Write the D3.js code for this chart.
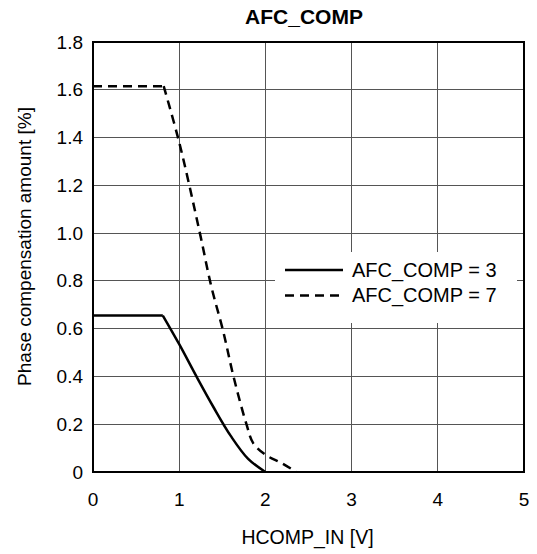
<!DOCTYPE html>
<html><head><meta charset="utf-8">
<script src="https://cdn.jsdelivr.net/npm/d3@7"></script>
<style>body{margin:0;background:#fff}svg{display:block}text{font-family:"Liberation Sans",Arial,sans-serif}</style>
</head><body>
<svg id="c" width="537" height="554"></svg>
<script>
const title = "AFC_COMP";
const xLabel = "HCOMP_IN [V]";
const yLabel = "Phase compensation amount [%]";
const xTicks = [0,1,2,3,4,5];
const yTicks = [0,0.2,0.4,0.6,0.8,1.0,1.2,1.4,1.6,1.8];
const yTickLabels = ["0","0.2","0.4","0.6","0.8","1.0","1.2","1.4","1.6","1.8"];
const seriesNames = ["AFC_COMP = 3","AFC_COMP = 7"];
const comp3X = [0, 0.81, 1.0, 1.2, 1.4, 1.6, 1.8, 2.0];
const comp3Y = [0.655, 0.655, 0.535, 0.40, 0.27, 0.15, 0.055, 0.0];
const comp7X = [0, 0.82, 1.0, 1.24, 1.37, 1.51, 1.63, 1.78, 1.86, 2.01, 2.2, 2.36];
const comp7Y = [1.615, 1.615, 1.38, 1.0, 0.78, 0.59, 0.40, 0.20, 0.12, 0.07, 0.035, 0.0];

const svg = d3.select("#c");
const m = {l:93, r:524, t:42, b:472};
const x = d3.scaleLinear().domain([0,5]).range([m.l, m.r]);
const y = d3.scaleLinear().domain([0,1.8]).range([m.b, m.t]);

// grid
const g = svg.append("g");
g.selectAll(".vx").data(xTicks.slice(1,-1)).join("line")
  .attr("x1", d=>x(d)).attr("x2", d=>x(d)).attr("y1", m.t).attr("y2", m.b)
  .attr("stroke", "#555").attr("stroke-width", 1).attr("shape-rendering","crispEdges");
g.selectAll(".hy").data(yTicks.slice(1,-1)).join("line")
  .attr("y1", d=>y(d)).attr("y2", d=>y(d)).attr("x1", m.l).attr("x2", m.r)
  .attr("stroke", "#555").attr("stroke-width", 1).attr("shape-rendering","crispEdges");

// legend background
const lg = svg.append("g");
lg.append("rect").attr("x", 275).attr("y", 252).attr("width", 242).attr("height", 71).attr("fill", "#fff");

// curves: flat linear part then smooth descent
function drawSeries(xs, ys, dash) {
  const pts = xs.map((v,i)=>[v, ys[i]]);
  const flat = pts.slice(0,2), fall = pts.slice(1);
  const lin = d3.line().x(d=>x(d[0])).y(d=>y(d[1]));
  const smooth = d3.line().x(d=>x(d[0])).y(d=>y(d[1])).curve(d3.curveCatmullRom.alpha(0.5));
  [[flat, lin],[fall, smooth]].forEach(([data, gen])=>{
    svg.append("path").datum(data).attr("d", gen)
      .attr("fill","none").attr("stroke","#000").attr("stroke-width",2.5)
      .attr("stroke-dasharray", dash);
  });
}
drawSeries(comp3X, comp3Y, null);
drawSeries(comp7X, comp7Y, "9,6");

// frame
svg.append("rect").attr("x", m.l).attr("y", m.t).attr("width", m.r-m.l).attr("height", m.b-m.t)
  .attr("fill","none").attr("stroke","#000").attr("stroke-width",2);

// legend items
const items = [{n:seriesNames[0], dash:null},{n:seriesNames[1], dash:"9,6"}];
items.forEach((it,i)=>{
  lg.append("line").attr("x1",285).attr("x2",343).attr("y1",270 + i*25.5).attr("y2",270 + i*25.5)
    .attr("stroke","#000").attr("stroke-width",2.5).attr("stroke-dasharray", it.dash);
  lg.append("text").attr("x",352).attr("y",277 + i*24.5).attr("font-size",20).text(it.n);
});
svg.node().appendChild(lg.node());

// tick labels
svg.selectAll(".xt").data(xTicks).join("text")
  .attr("x", d=>x(d)).attr("y", 506).attr("text-anchor","middle").attr("font-size",19).text(d=>d);
svg.selectAll(".yt").data(yTicks).join("text")
  .attr("x", 83).attr("y", d=>y(d)+6.5).attr("text-anchor","end").attr("font-size",19).text((d,i)=>yTickLabels[i]);

// titles
svg.append("text").attr("x", 304).attr("y", 24).attr("text-anchor","middle")
  .attr("font-size",21).attr("font-weight","bold").text(title);
svg.append("text").attr("x", 307.5).attr("y", 544).attr("text-anchor","middle")
  .attr("font-size",19.5).text(xLabel);
svg.append("text").attr("transform", `translate(31,246.5) rotate(-90)`)
  .attr("text-anchor","middle").attr("font-size",19).text(yLabel);
</script>
</body></html>
